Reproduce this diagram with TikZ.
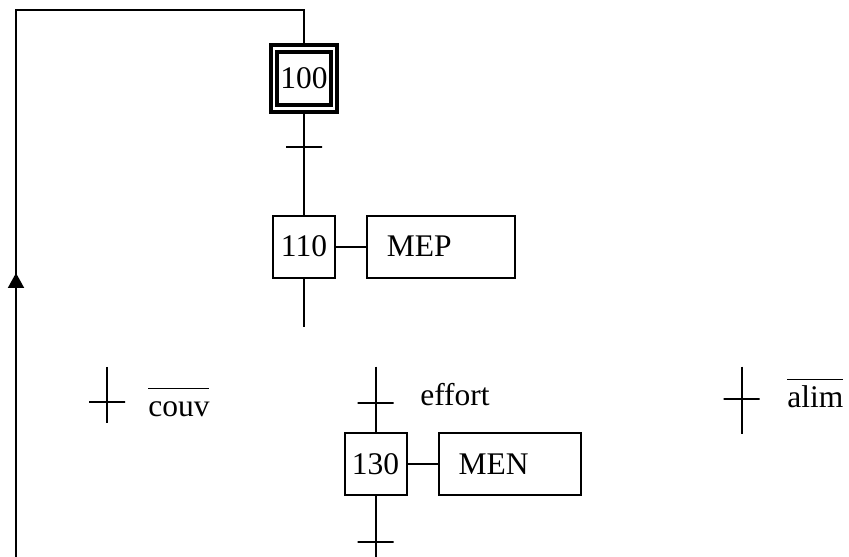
\documentclass[tikz,border=0pt]{standalone}
\usepackage{fontspec}
\setmainfont{Liberation Serif}
\usepackage{tikz}
\usetikzlibrary{arrows.meta,positioning}
\tikzstyle{stepbox}=[rectangle, draw, line width=1.4pt, minimum size=1.55cm, inner sep=0pt]
\tikzstyle{initstep}=[rectangle, draw, line width=2.8pt, double, double distance=1.8pt, minimum size=1.5cm, inner sep=0pt]
\tikzstyle{action}=[rectangle, draw, line width=1.4pt, minimum height=1.55cm, inner xsep=0.5cm, align=left]
\tikzstyle{trans}=[rectangle, draw, line width=1.4pt, minimum width=0.9cm, minimum height=0pt, inner sep=0pt]
\newcommand{\gfont}{\fontsize{22.4}{27}\selectfont}
\newcommand{\nott}[1]{$\overline{\rule{0pt}{0.86em}\mbox{#1}}$}

\begin{document}
\begin{tikzpicture}[
  link/.style={line width=1.4pt},
  every node/.style={font=\gfont}]
\useasboundingbox (0,0) rectangle (21.225,13.925);

% upper branch
\node[initstep] (S100) at (7.6,11.96) {100};
\node[trans] (T1) at (7.6,10.25) {};
\node[stepbox] (S110) at (7.6,7.76) {110};
\node[action, text width=2.7cm, right=0.75cm of S110] (A110) {MEP};
\coordinate (E110) at (7.6,5.76);
\draw[link] (S100) -- (T1) -- (S110);
\draw[link] (S110) -- (A110);
\draw[link] (S110) -- (E110);

% choice transitions
\node[trans] (Tcouv) at (2.68,3.88) {};
\coordinate (Tcouvtop) at (2.68,4.75);
\coordinate (Tcouvbot) at (2.68,3.35);
\draw[link] (Tcouvtop) -- (Tcouv) -- (Tcouvbot);
\node[anchor=base west, inner sep=0pt] (Lcouv) at (3.7,3.5) {\nott{couv}};

\node[trans] (Teff) at (9.39,3.84) {};
\coordinate (Tefftop) at (9.39,4.76);
\node[anchor=base west, inner sep=0pt] (Leff) at (10.5,3.775) {effort};

\node[trans] (Talim) at (18.54,3.94) {};
\coordinate (Talimtop) at (18.54,4.76);
\coordinate (Talimbot) at (18.54,3.075);
\draw[link] (Talimtop) -- (Talim) -- (Talimbot);
\node[anchor=base west, inner sep=0pt] (Lalim) at (19.675,3.725) {\nott{alim}};

% lower branch
\node[stepbox] (S130) at (9.39,2.325) {130};
\node[action, text width=2.565cm, right=0.75cm of S130] (A130) {MEN};
\node[trans] (T130) at (9.39,0.375) {};
\coordinate (E130) at (9.39,0);
\draw[link] (Tefftop) -- (Teff) -- (S130);
\draw[link] (S130) -- (A130);
\draw[link] (S130) -- (T130) -- (E130);

% return loop
\coordinate (Rbot) at (0.4,0);
\coordinate (Rarr) at (0.4,7.1);
\coordinate (Rtop) at (0.4,13.675);
\draw[link] (Rbot) -- (Rtop) -| (S100.north);
\draw[link, -{Triangle[length=0.375cm, width=0.4cm]}] (Rbot) -- (Rarr);
\end{tikzpicture}
\end{document}
